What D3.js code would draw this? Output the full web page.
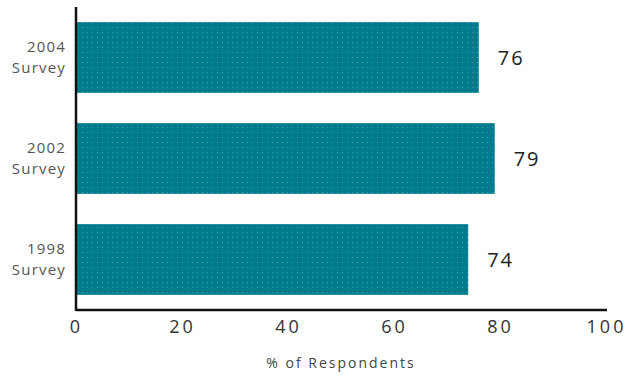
<!DOCTYPE html>
<html><head><meta charset="utf-8">
<script src="https://cdn.jsdelivr.net/npm/d3@7"></script>
<style>body{margin:0;background:#fff;}svg{display:block;}</style>
</head><body>
<script>
const categories = [["2004","Survey"],["2002","Survey"],["1998","Survey"]];
const values = [76, 79, 74];
const xTicks = [0, 20, 40, 60, 80, 100];
const xTitle = "% of Respondents";

const W = 628, H = 377;
const svg = d3.select("body").append("svg").attr("width", W).attr("height", H);
const defs = svg.append("defs");
const pat = defs.append("pattern").attr("id","dots").attr("patternUnits","userSpaceOnUse")
  .attr("width",5).attr("height",5);
pat.append("rect").attr("width",5).attr("height",5).attr("fill","#007b8e");
pat.append("rect").attr("x",2).attr("y",2).attr("width",1).attr("height",1).attr("fill","#2aa9a8");

const x = d3.scaleLinear().domain([0,100]).range([76,606]);
const y = d3.scaleBand().domain(d3.range(values.length)).range([7,310]).paddingInner(0.3).paddingOuter(0.15);

svg.selectAll("rect.bar").data(values).enter().append("rect").attr("class","bar")
  .attr("x", x(0)).attr("y",(d,i)=>y(i)).attr("width",d=>x(d)-x(0)).attr("height",y.bandwidth())
  .attr("fill","url(#dots)");

svg.selectAll("text.val").data(values).enter().append("text").attr("class","val")
  .attr("x",d=>x(d)+19).attr("y",(d,i)=>y(i)+y.bandwidth()/2).attr("dy","0.35em")
  .attr("font-family","Open Sans, sans-serif").attr("font-size",20).attr("letter-spacing",2)
  .attr("fill","#222").text(d=>d);

const cat = svg.selectAll("text.cat").data(categories).enter().append("text").attr("class","cat")
  .attr("text-anchor","end").attr("font-family","Open Sans, sans-serif").attr("font-size",15)
  .attr("letter-spacing",1.2).attr("fill","#555");
cat.append("tspan").attr("x",66).attr("y",(d,i)=>y(i)+y.bandwidth()/2-11).attr("dy","0.35em").text(d=>d[0]);
cat.append("tspan").attr("x",66).attr("y",(d,i)=>y(i)+y.bandwidth()/2+10).attr("dy","0.35em").text(d=>d[1]);

const xAxis = d3.axisBottom(x).tickValues(xTicks).tickSize(0).tickPadding(10).tickFormat(d3.format("d"));
const gx = svg.append("g").attr("transform","translate(0,310)").call(xAxis);
gx.select(".domain").attr("stroke","#111").attr("stroke-width",2.5).attr("d","M76,0H607");
gx.selectAll("text").attr("font-family","Open Sans, sans-serif").attr("font-size",18)
  .attr("letter-spacing",3).attr("fill","#333");

svg.append("line").attr("x1",76).attr("x2",76).attr("y1",7).attr("y2",311)
  .attr("stroke","#111").attr("stroke-width",2.5);

svg.append("text").attr("x",(x(0)+x(100))/2).attr("y",363).attr("dy","0.35em").attr("text-anchor","middle")
  .attr("font-family","Open Sans, sans-serif").attr("font-size",14).attr("letter-spacing",2)
  .attr("fill","#444").text(xTitle);
</script>
</body></html>
